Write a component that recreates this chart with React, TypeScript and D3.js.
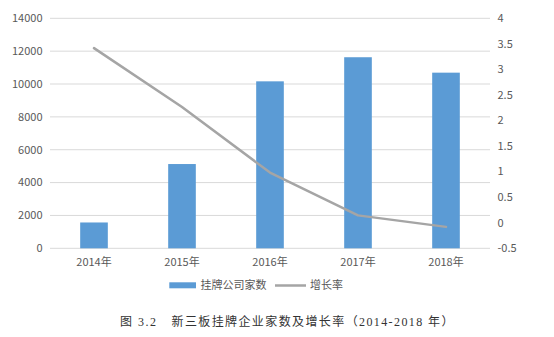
import React from "react";
import * as d3 from "d3";

const years = ["2014年", "2015年", "2016年", "2017年", "2018年"];
const companies = [1572, 5129, 10163, 11630, 10691];
const growth = [3.416, 2.263, 0.981, 0.144, -0.081];
const leftTicks = [0, 2000, 4000, 6000, 8000, 10000, 12000, 14000];
const rightTicks = [-0.5, 0, 0.5, 1, 1.5, 2, 2.5, 3, 3.5, 4];
const seriesNames = ["挂牌公司家数", "增长率"];
const captionHead = "图 3.2";
const captionBody = "新三板挂牌企业家数及增长率（2014-2018 年）";

const W = 554, H = 337;
const plot = { left: 50, right: 490, top: 18.3, bottom: 248.3 };
const font = "'Noto Sans CJK SC', 'Liberation Sans', sans-serif";
const textColor = "#595959";

export default function App() {
  const x = d3.scaleBand<string>().domain(years).range([plot.left, plot.right]).paddingInner(0.686).paddingOuter(0.343);
  const yL = d3.scaleLinear().domain([0, 14000]).range([plot.bottom, plot.top]);
  const yR = d3.scaleLinear().domain([-0.5, 4]).range([plot.bottom, plot.top]);
  const line = d3.line<number>()
    .x((_, i) => (x(years[i]) as number) + x.bandwidth() / 2)
    .y((d) => yR(d));

  return (
    <svg width={W} height={H} style={{ position: "absolute", left: 0, top: 0, background: "#fff" }}>
      <rect x={0} y={0} width={W} height={H} fill="#fff" />
      {leftTicks.map((t) => (
        <g key={"l" + t}>
          <line x1={plot.left} x2={plot.right} y1={yL(t)} y2={yL(t)} stroke="#d9d9d9" strokeWidth={1} />
          <text x={42.5} y={yL(t)} dy="0.35em" textAnchor="end" fontSize={11} fontFamily={font} fill={textColor}>{t}</text>
        </g>
      ))}
      {rightTicks.map((t) => (
        <text key={"r" + t} x={497.5} y={yR(t)} dy="0.35em" textAnchor="start" fontSize={11} fontFamily={font} fill={textColor}>{t}</text>
      ))}
      {companies.map((v, i) => (
        <rect key={"b" + i} x={x(years[i])} y={yL(v)} width={x.bandwidth()} height={yL(0) - yL(v)} fill="#5b9bd5" />
      ))}
      <path d={line(growth) || ""} fill="none" stroke="#a5a5a5" strokeWidth={2.5} strokeLinecap="round" strokeLinejoin="round" />
      {years.map((y) => (
        <text key={y} x={(x(y) as number) + x.bandwidth() / 2} y={262.5} dy="0.35em" textAnchor="middle" fontSize={11} fontFamily={font} fill={textColor}>{y}</text>
      ))}
      <rect x={169.3} y={282.3} width={26.7} height={6} fill="#5b9bd5" />
      <text x={200.5} y={285.5} dy="0.35em" fontSize={11} fontFamily={font} fill={textColor}>{seriesNames[0]}</text>
      <line x1={275} x2={306} y1={285.5} y2={285.5} stroke="#a5a5a5" strokeWidth={2.5} />
      <text x={310} y={285.5} dy="0.35em" fontSize={11} fontFamily={font} fill={textColor}>{seriesNames[1]}</text>
      <text x={120} y={322} dy="0.35em" fontSize={12} letterSpacing={1.5} fontFamily="'Liberation Serif', 'Noto Sans CJK SC', serif" fill="#333">{captionHead}</text>
      <text x={171.5} y={322} dy="0.35em" fontSize={12} letterSpacing={1.6} fontFamily="'Liberation Serif', 'Noto Sans CJK SC', serif" fill="#333" textLength={283.5} lengthAdjust="spacing">{captionBody}</text>
    </svg>
  );
}
